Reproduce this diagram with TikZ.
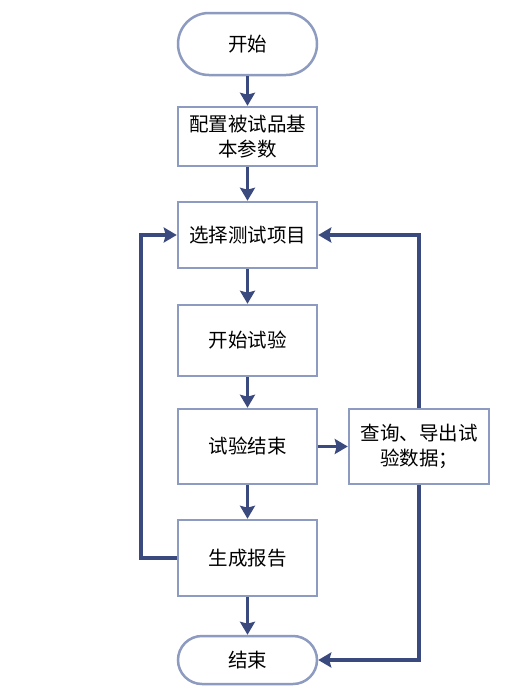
\documentclass[tikz,border=0pt]{standalone}
\usepackage{fontspec}
\setmainfont{Noto Sans CJK SC}
\usetikzlibrary{arrows.meta}
\definecolor{flowline}{RGB}{59,74,126}
\definecolor{boxline}{RGB}{142,155,192}
\tikzset{
  box/.style={draw=boxline,line width=2.5pt,fill=white,minimum width=139pt,inner sep=2pt,
    align=center,font=\fontsize{19.5}{25}\selectfont},
  terminal/.style={box,rounded corners=#1},
  flow/.style={draw=flowline,line width=3.5pt,-{Stealth[inset=2pt,length=13pt,width=15pt]}}
}
\begin{document}
\begin{tikzpicture}[x=1pt,y=1pt]
        \useasboundingbox[fill=white] (0,0) rectangle (529,-699);
        \node[terminal=31pt,minimum height=62pt] (start) at (247.5,-44) {开始};
        \node[box,minimum height=59pt] (params) at (247.5,-136.5) {配置被试品基\\本参数};
        \node[box,minimum height=66pt] (select) at (247.5,-235) {选择测试项目};
        \node[box,minimum height=71pt] (begin) at (247.5,-340.5) {开始试验};
        \node[box,minimum height=75pt] (finish) at (247.5,-446.5) {试验结束};
        \node[box,minimum width=140pt,minimum height=75pt] (query) at (419,-446.5) {查询、导出试\\验数据；};
        \node[box,minimum height=76pt] (report) at (247.5,-558) {生成报告};
        \node[terminal=24pt,minimum height=48pt] (stop) at (247.5,-660) {结束};
        % main line
        \draw[flow] (start) -- (params);
        \draw[flow] (params) -- (select);
        \draw[flow] (select) -- (begin);
        \draw[flow] (begin) -- (finish);
        \draw[flow] (finish) -- (query);
        \draw[flow] (finish) -- (report);
        \draw[flow] (report) -- (stop);
        % loops back
        \draw[flow] (report.west) -- ++(-36,0) |- (select.west);
        \draw[flow] (query.north) |- (select.east);
        \draw[flow] (query.south) |- (stop.east);
\end{tikzpicture}
\end{document}
